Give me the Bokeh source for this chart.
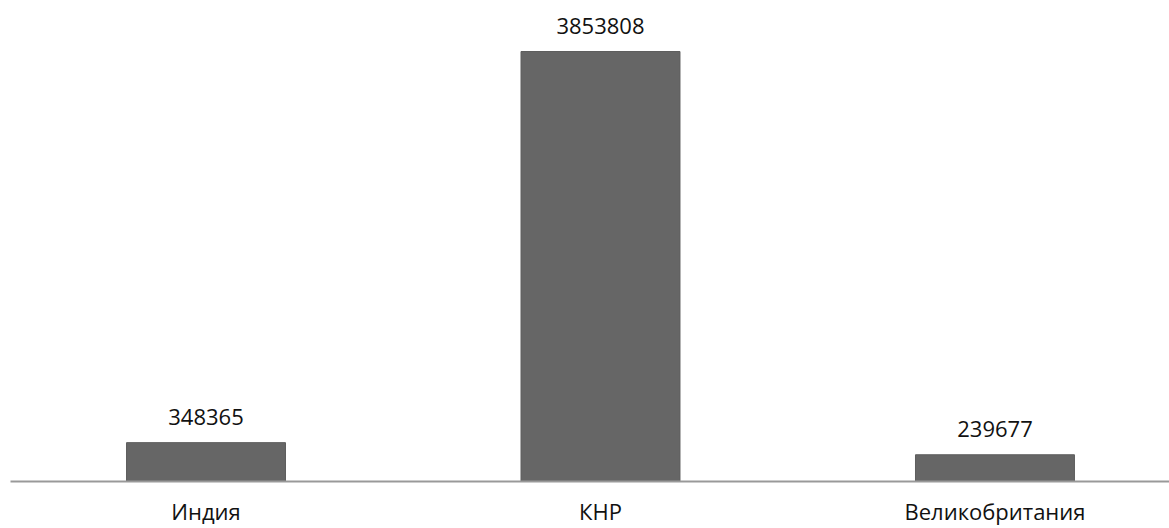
from bokeh.plotting import figure
from bokeh.models import ColumnDataSource, Range1d, FixedTicker, LabelSet
from bokeh.core.properties import value
from bokeh.embed import file_html
from bokeh.resources import INLINE

categories = ["Индия", "КНР", "Великобритания"]
values = [348365, 3853808, 239677]
labels = [str(v) for v in values]
positions = [0, 1, 2]

source = ColumnDataSource(data=dict(x=positions, top=values, label=labels, cat=categories))

p = figure(width=1169, height=528, output_backend="svg", toolbar_location=None,
           x_range=Range1d(-0.4956, 2.4424), y_range=Range1d(0, 4310900),
           min_border_left=10, min_border_right=0, min_border_top=0, min_border_bottom=30)

p.vbar(x="x", top="top", bottom=0, width=0.403, source=source,
       fill_color="#666666", line_color="#5e5e5e", line_width=1)

lbl = LabelSet(x="x", y="top", text="label", source=source, text_align="center",
               text_baseline="alphabetic", y_offset=18, text_font=value("Open Sans"),
               text_font_size="22px", text_color="#111111")
p.add_layout(lbl)

p.xaxis.ticker = FixedTicker(ticks=positions)
p.xaxis.major_label_overrides = {i: c for i, c in zip(positions, categories)}
p.xaxis.major_label_text_font = "Open Sans"
p.xaxis.major_label_text_font_size = "22px"
p.xaxis.major_label_text_color = "#111111"
p.xaxis.major_label_standoff = 8
p.xaxis.major_tick_line_color = None
p.xaxis.minor_tick_line_color = None
p.xaxis.axis_line_color = "#999999"
p.xaxis.axis_line_width = 2
p.yaxis.visible = False
p.xgrid.visible = False
p.ygrid.visible = False
p.outline_line_color = None

open("out.html", "w").write(file_html(p, INLINE))
